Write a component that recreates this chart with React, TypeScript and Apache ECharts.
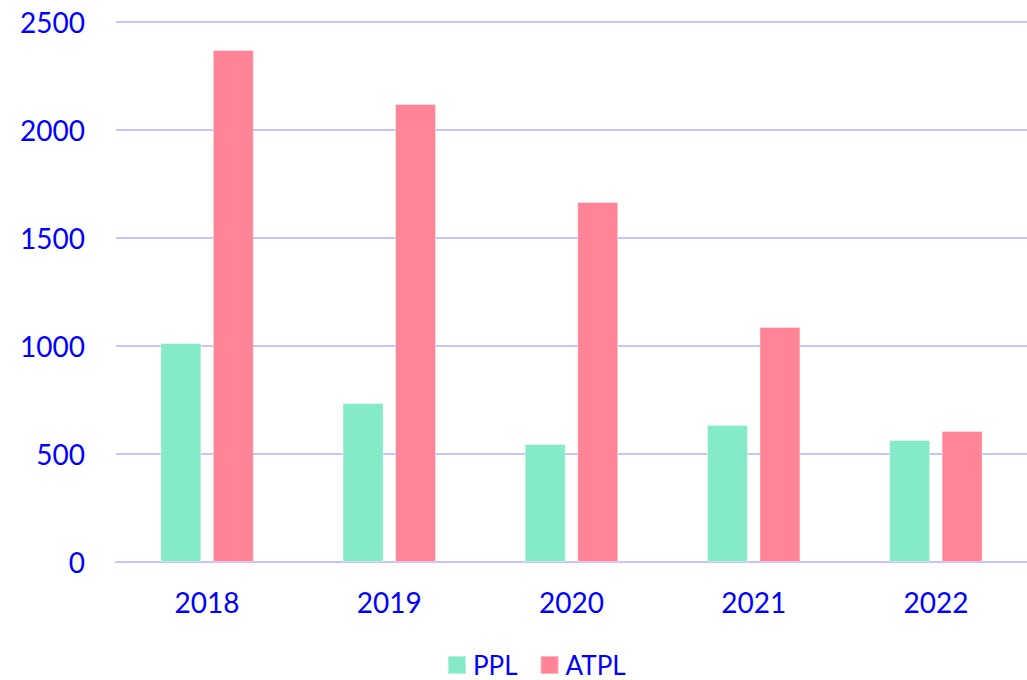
import React, { useEffect, useRef } from "react";
import * as echarts from "echarts";

const categories = ["2018", "2019", "2020", "2021", "2022"];
const pplValues = [1014, 736, 546, 634, 565];
const atplValues = [2370, 2120, 1667, 1088, 606];
const seriesNames = ["PPL", "ATPL"];

export default function App() {
  const ref = useRef<HTMLDivElement>(null);
  useEffect(() => {
    const chart = echarts.init(ref.current!, null, { renderer: "svg" });
    const font = "Lato, 'Open Sans', sans-serif";
    chart.setOption({
      animation: false,
      grid: { left: 116, width: 916, top: 22, bottom: 118, containLabel: false },
      legend: {
        data: seriesNames,
        top: 652,
        left: 447,
        padding: 0,
        itemWidth: 18,
        itemHeight: 18,
        itemGap: 22,
        icon: "rect",
        textStyle: { color: "#0000ff", fontSize: 26, fontFamily: font, padding: [0, 0, 0, 2] },
      },
      xAxis: {
        type: "category",
        data: categories,
        axisLine: { lineStyle: { color: "#c4c4ff", width: 2 } },
        axisTick: { show: false },
        axisLabel: { color: "#0000ff", fontSize: 28, fontFamily: font, margin: 26 },
      },
      yAxis: {
        type: "value",
        min: 0,
        max: 2500,
        interval: 500,
        axisLine: { show: false },
        axisTick: { show: false },
        splitLine: { lineStyle: { color: "#c4c4ff", width: 2 } },
        axisLabel: {
          color: "#0000ff",
          fontSize: 28,
          fontFamily: font,
          margin: 31,
          formatter: (v: number) => String(v),
        },
      },
      series: [
        {
          name: seriesNames[0],
          type: "bar",
          data: pplValues,
          barWidth: 41,
          barGap: "28%",
          itemStyle: { color: "#84eac8", borderColor: "rgba(255,255,255,0.4)", borderWidth: 1 },
        },
        {
          name: seriesNames[1],
          type: "bar",
          data: atplValues,
          barWidth: 41,
          barGap: "28%",
          itemStyle: { color: "#ff8497", borderColor: "rgba(255,255,255,0.4)", borderWidth: 1 },
        },
      ],
    });
    return () => chart.dispose();
  }, []);
  return <div ref={ref} style={{ width: 1027, height: 680, position: "absolute", left: 0, top: 0 }} />;
}
